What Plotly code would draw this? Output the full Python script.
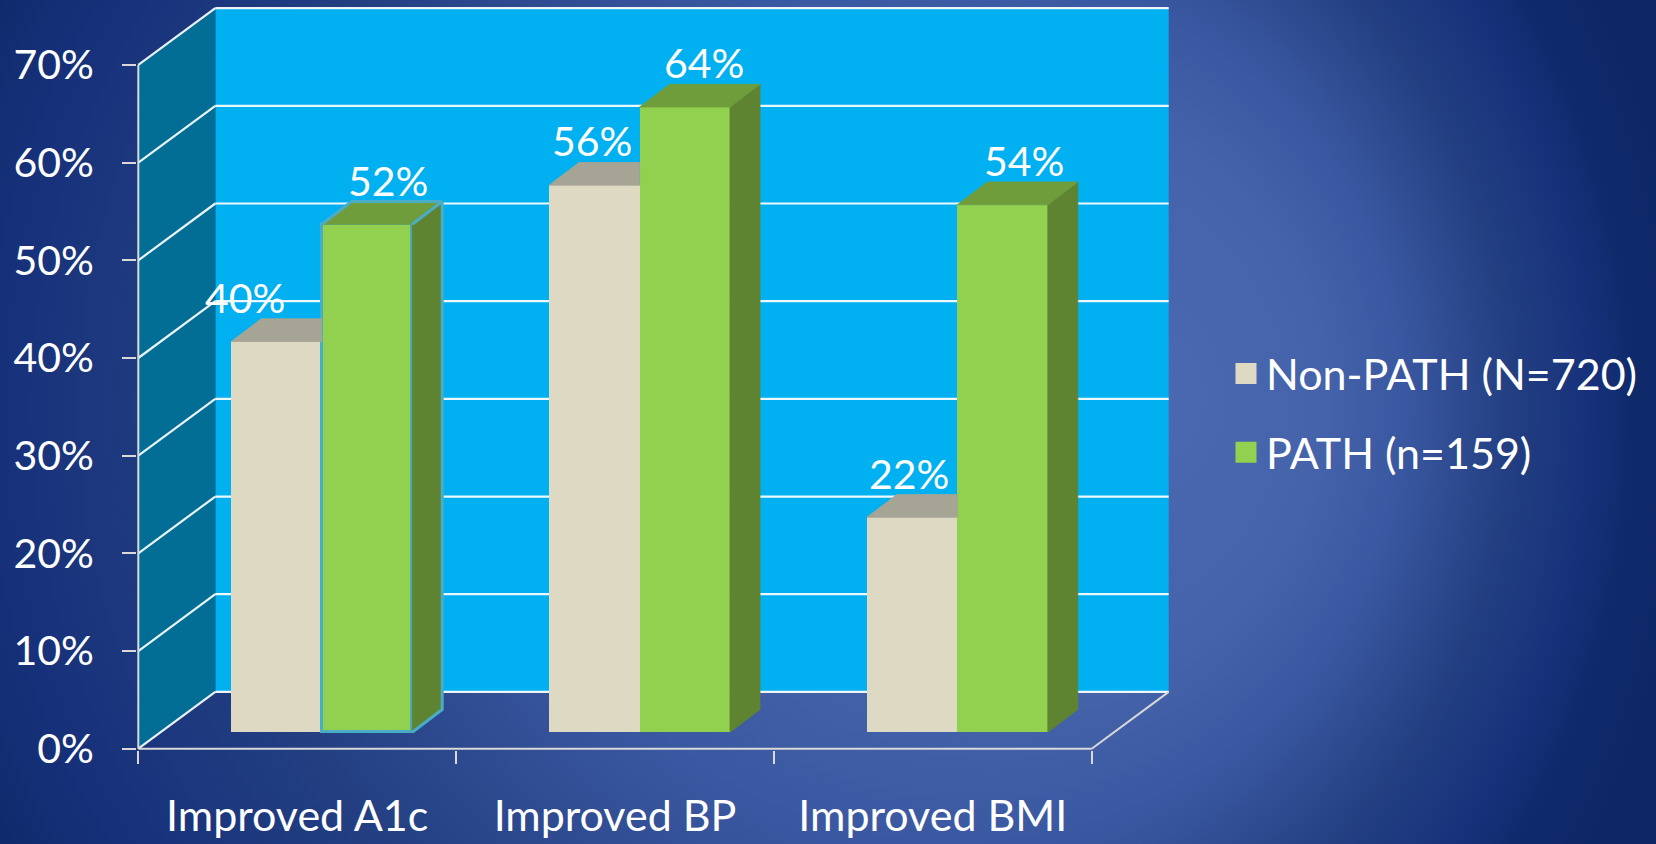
import base64
import plotly.graph_objects as go

# ---------------- data ----------------
categories = ["Improved A1c", "Improved BP", "Improved BMI"]
series_names = ["Non-PATH (N=720)", "PATH (n=159)"]
non_path_values = [40, 56, 22]
path_values = [52, 64, 54]
y_tick_values = [0, 10, 20, 30, 40, 50, 60, 70]
y_tick_labels = ["0%", "10%", "20%", "30%", "40%", "50%", "60%", "70%"]

# ---------------- style / geometry ----------------
FONT = "Lato"
FS_NUM = 41
FS_TXT = 43
W, H = 1656, 844
X0PX, PXX = 138.3, 317.8      # pixel of x=0, pixels per category
Y0PX, PXY = 757.7, 9.886      # pixel of 0%, pixels per percent
L, R, T, B = 137, 1172, 4, 759  # plot area in pixels
WP, HP = R - L, B - T
x_range = [(L - X0PX) / PXX, (R - X0PX) / PXX]
y_range = [(Y0PX - B) / PXY, (Y0PX - T) / PXY]

NCAT = len(categories)
YMAX = max(y_tick_values)
DX, DY = 77 / PXX, 57.5 / PXY          # wall depth
OX, OY = 22.3 / PXX, 16.7 / PXY        # bar front-face offset into depth
BDX, BDY = 30 / PXX, 23 / PXY          # bar depth
BW = 90.5 / PXX                        # bar width
GC = 0.507                             # group centre within category

C_BACK = "#00B0F0"
C_SIDE = "#026E95"
C_GRID = "rgba(255,255,255,0.92)"
C_AXIS = "#D9D9D9"
C_NP_FRONT, C_NP_TOP = "#DED9C3", "#A6A595"
C_P_FRONT, C_P_TOP, C_P_SIDE = "#92D050", "#6F9D3B", "#5E8431"
C_HILITE = "#4BACC6"
HILITE_INDEX = 0  # outlined PATH bar (Improved A1c)
label_dx_px = {"np": [-31, -2, -3], "p": [21, 19, 21]}
LABEL_YSHIFT = -5

# ---------------- background gradient (svg) ----------------
PADI = 12
BGW, BGH = W + 2 * PADI, H + 2 * PADI
svg = (
    f"<svg xmlns='http://www.w3.org/2000/svg' width='{BGW}' height='{BGH}' viewBox='{-PADI} {-PADI} {BGW} {BGH}' preserveAspectRatio='none'>"
    "<defs><radialGradient id='g' gradientUnits='userSpaceOnUse' cx='700' cy='420' r='1000' fx='1160' fy='400'>"
    "<stop offset='0' stop-color='#4a69b1'/>"
    "<stop offset='0.3' stop-color='#4563aa'/>"
    "<stop offset='0.45' stop-color='#3a58a1'/>"
    "<stop offset='0.65' stop-color='#233f82'/>"
    "<stop offset='0.8' stop-color='#16317a'/>"
    "<stop offset='0.88' stop-color='#0f2a6a'/>"
    "<stop offset='1' stop-color='#0c2666'/>"
    "</radialGradient></defs>"
    f"<rect x='{-PADI}' y='{-PADI}' width='{BGW}' height='{BGH}' fill='url(#g)'/></svg>"
)
bg_src = "data:image/svg+xml;base64," + base64.b64encode(svg.encode()).decode()


def path_str(pts):
    return "M " + " L ".join(f"{x:.5f},{y:.5f}" for x, y in pts) + " Z"


shapes = []
# back wall and side wall
shapes.append(dict(type="path", xref="x", yref="y", layer="below",
                   path=path_str([(DX, DY), (NCAT + DX, DY), (NCAT + DX, YMAX + DY), (DX, YMAX + DY)]),
                   fillcolor=C_BACK, line=dict(width=0)))
shapes.append(dict(type="path", xref="x", yref="y", layer="below",
                   path=path_str([(0, 0), (DX, DY), (DX, YMAX + DY), (0, YMAX)]),
                   fillcolor=C_SIDE, line=dict(width=0)))
# gridlines on walls
for t in y_tick_values:
    shapes.append(dict(type="line", xref="x", yref="y", layer="below",
                       x0=DX, y0=t + DY, x1=NCAT + DX, y1=t + DY,
                       line=dict(color=C_GRID, width=2.2)))
    shapes.append(dict(type="line", xref="x", yref="y", layer="below",
                       x0=0, y0=t, x1=DX, y1=t + DY,
                       line=dict(color=C_GRID, width=2.2)))
# axis lines and floor edge
shapes.append(dict(type="line", xref="x", yref="y", layer="below",
                   x0=0, y0=0, x1=0, y1=YMAX, line=dict(color=C_AXIS, width=2)))
shapes.append(dict(type="line", xref="x", yref="y", layer="below",
                   x0=0, y0=0, x1=NCAT, y1=0, line=dict(color=C_AXIS, width=2)))
shapes.append(dict(type="line", xref="x", yref="y", layer="below",
                   x0=NCAT, y0=0, x1=NCAT + DX, y1=DY, line=dict(color=C_AXIS, width=2)))

fig = go.Figure()

# bar front faces
xl = [i + GC - BW + OX for i in range(NCAT)]
xm = [i + GC + OX for i in range(NCAT)]
xr = [i + GC + BW + OX for i in range(NCAT)]

fig.add_trace(go.Bar(x=[a + BW / 2 for a in xl], y=non_path_values, base=OY, width=BW,
                     marker=dict(color=C_NP_FRONT, line=dict(width=0)),
                     name=series_names[0], showlegend=False, hoverinfo="skip"))
fig.add_trace(go.Bar(x=[a + BW / 2 for a in xm], y=path_values, base=OY, width=BW,
                     marker=dict(color=C_P_FRONT,
                                 line=dict(color=C_HILITE,
                                           width=[3 if i == HILITE_INDEX else 0 for i in range(NCAT)])),
                     name=series_names[1], showlegend=False, hoverinfo="skip"))


def polys(list_of_pts):
    xs, ys = [], []
    for pts in list_of_pts:
        for x, y in pts:
            xs.append(x)
            ys.append(y)
        xs.append(pts[0][0]); ys.append(pts[0][1])
        xs.append(None); ys.append(None)
    return xs, ys


np_tops, p_sides, p_tops = [], [], []
for i in range(NCAT):
    h = non_path_values[i] + OY
    np_tops.append([(xl[i], h), (xm[i], h), (xm[i], h + BDY), (xl[i] + BDX, h + BDY)])
    p = path_values[i] + OY
    p_sides.append([(xr[i], OY), (xr[i], p), (xr[i] + BDX, p + BDY), (xr[i] + BDX, OY + BDY)])
    p_tops.append([(xm[i], p), (xr[i], p), (xr[i] + BDX, p + BDY), (xm[i] + BDX, p + BDY)])

for pts, col in [(np_tops, C_NP_TOP), (p_sides, C_P_SIDE), (p_tops, C_P_TOP)]:
    xs, ys = polys(pts)
    fig.add_trace(go.Scatter(x=xs, y=ys, mode="lines", fill="toself", fillcolor=col,
                             line=dict(color=col, width=0.8), showlegend=False, hoverinfo="skip"))

# highlight outline for the selected bar
i = HILITE_INDEX
p = path_values[i] + OY
hx = [xm[i], xm[i] + BDX, xr[i] + BDX, xr[i], None, xr[i] + BDX, xr[i] + BDX, xr[i]]
hy = [p, p + BDY, p + BDY, p, None, p + BDY, OY + BDY, OY]
fig.add_trace(go.Scatter(x=hx, y=hy, mode="lines", line=dict(color=C_HILITE, width=3),
                         showlegend=False, hoverinfo="skip"))

# legend entries
for name, col in zip(series_names, [C_NP_FRONT, C_P_FRONT]):
    fig.add_trace(go.Scatter(x=[None], y=[None], xaxis="x2", mode="markers", name=name,
                             legendgroup=name,
                             marker=dict(symbol="square", size=16, color=col, line=dict(color=col, width=5))))

# data labels
annotations = []
for i in range(NCAT):
    for key, vals, left in [("np", non_path_values, xl), ("p", path_values, xm)]:
        v = vals[i]
        annotations.append(dict(
            x=left[i] + BW / 2 + label_dx_px[key][i] / PXX, y=v + OY + BDY, xref="x", yref="y",
            text=f"{v}%", showarrow=False, xanchor="center", yanchor="bottom", yshift=LABEL_YSHIFT,
            font=dict(family=FONT, size=FS_NUM, color="white")))

fig.update_layout(
    width=W, height=H,
    margin=dict(l=L, r=W - R, t=T, b=H - B, pad=0),
    paper_bgcolor="#13306e", plot_bgcolor="rgba(0,0,0,0)",
    barmode="overlay", bargap=0,
    shapes=shapes, annotations=annotations,
    images=[dict(source=bg_src, xref="paper", yref="paper", x=-(L + PADI) / WP, y=1 + (T + PADI) / HP,
                 sizex=BGW / WP, sizey=BGH / HP, xanchor="left", yanchor="top",
                 sizing="stretch", layer="below")],
    xaxis=dict(range=x_range, tickvals=list(range(NCAT + 1)), ticks="outside", ticklen=13,
               tickwidth=2, tickcolor=C_AXIS, showticklabels=False, showgrid=False,
               zeroline=False, showline=False, fixedrange=True),
    xaxis2=dict(range=x_range, overlaying="x", anchor="y", side="bottom",
                tickvals=[i + 0.5 for i in range(NCAT)], ticktext=categories, ticks="",
                showgrid=False, zeroline=False, showline=False, ticklabelstandoff=37,
                tickfont=dict(family=FONT, size=FS_TXT, color="white"), fixedrange=True),
    yaxis=dict(range=y_range, tickvals=y_tick_values, ticktext=y_tick_labels, ticks="outside",
               ticklen=14, tickwidth=2, tickcolor=C_AXIS, showgrid=False, zeroline=False,
               showline=False, ticklabelstandoff=20,
               tickfont=dict(family=FONT, size=FS_NUM, color="white"), fixedrange=True),
    legend=dict(x=(1226 - L) / WP, xanchor="left", y=1 - (343 - T) / HP, yanchor="top",
                bgcolor="rgba(0,0,0,0)", traceorder="grouped", tracegroupgap=20,
                font=dict(family=FONT, size=FS_TXT, color="white"), itemsizing="trace"),
    showlegend=True,
)

fig.write_html("out.html", config={"displayModeBar": False},
               post_script="document.body.style.margin='0';document.body.style.overflow='hidden';")
